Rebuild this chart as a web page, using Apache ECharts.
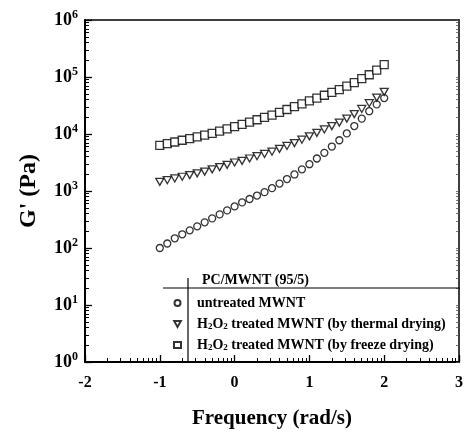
<!DOCTYPE html>
<html><head><meta charset="utf-8">
<script src="https://cdn.jsdelivr.net/npm/echarts@6/dist/echarts.min.js"></script>
<style>html,body{margin:0;padding:0;background:#fff}#c{width:466px;height:445px}</style>
</head><body><div id="c"></div>
<script>
// log10(frequency) values
var freqLog = [-1.0,-0.9,-0.8,-0.7,-0.6,-0.5,-0.4,-0.3,-0.2,-0.1,0.0,0.1,0.2,0.3,0.4,0.5,0.6,0.7,0.8,0.9,1.0,1.1,1.2,1.3,1.4,1.5,1.6,1.7,1.8,1.9,2.0];
// G' (Pa)
var untreated = [100,120,148,174,204,240,282,331,389,457,537,631,724,832,955,1122,1349,1622,1950,2399,2951,3715,4677,6026,7762,10230,13800,18620,25120,33110,42660];
var thermal = [1445,1549,1660,1778,1905,2042,2188,2399,2630,2884,3162,3388,3715,4074,4467,4898,5495,6166,6918,7943,9120,10470,12020,13800,15850,18620,22390,27540,34670,43650,54950];
var freeze = [6310,6761,7244,7762,8318,8913,9550,10230,11220,12300,13490,14790,16220,17780,19500,21380,23990,26920,30200,33880,38020,42660,47860,53700,60260,69180,79430,93330,109600,131800,165000];
var seriesNames = ['untreated MWNT','H2O2 treated MWNT (by thermal drying)','H2O2 treated MWNT (by freeze drying)'];
var xTicks = [-2,-1,0,1,2,3];
var yDecades = [0,1,2,3,4,5,6];

function logMinor(from, to){
  var out=[];
  for(var d=from; d<to; d++){ for(var k=2;k<=9;k++){ out.push(d+Math.log10(k)); } }
  return out;
}
var xMinor = logMinor(-2,3);
var yMinor = logMinor(0,6);

function pairs(arr){ return arr.map(function(v,i){ return [freqLog[i], v]; }); }

var font = 'Liberation Serif';
var chart = echarts.init(document.getElementById('c'));
var symStyle = {color:'#fff', borderColor:'#000', borderWidth:1.3};
chart.setOption({
  animation:false,
  backgroundColor:'#fff',
  grid:{left:85,right:6,top:20,bottom:83,containLabel:false},
  xAxis:[
    {type:'value',min:-2,max:3,interval:1,position:'bottom',
     axisLine:{show:true,onZero:false,lineStyle:{color:'#000',width:2}},
     axisTick:{show:true,inside:true,length:7,lineStyle:{color:'#000',width:1.3}},
     axisLabel:{color:'#000',fontFamily:font,fontSize:16,fontWeight:'bold',margin:13},
     splitLine:{show:false},
     name:'Frequency (rad/s)',nameLocation:'middle',nameGap:46,
     nameTextStyle:{color:'#000',fontFamily:font,fontSize:21,fontWeight:'bold'}},
    {type:'value',min:-2,max:3,position:'bottom',
     axisLine:{show:false,onZero:false},
     axisTick:{show:true,inside:true,length:4,customValues:xMinor,lineStyle:{color:'#000',width:1}},
     axisLabel:{show:false},splitLine:{show:false}},
    {type:'value',min:-2,max:3,position:'top',
     axisLine:{show:true,onZero:false,lineStyle:{color:'#000',width:1.5}},
     axisTick:{show:false},axisLabel:{show:false},splitLine:{show:false}}
  ],
  yAxis:[
    {type:'log',logBase:10,min:1,max:1e6,interval:1,position:'left',
     axisLine:{show:true,onZero:false,lineStyle:{color:'#000',width:2}},
     axisTick:{show:true,inside:true,length:7,lineStyle:{color:'#000',width:1.3}},
     axisLabel:{color:'#000',fontFamily:font,margin:7,
       formatter:function(v){ var e=Math.round(Math.log10(v)); return '{b|10}{s|'+e+'}'; },
       rich:{b:{fontFamily:font,fontSize:18,color:'#000',fontWeight:'bold'},
             s:{fontFamily:font,fontSize:12,color:'#000',fontWeight:'bold',padding:[0,0,10,0]}}},
     splitLine:{show:false},minorTick:{show:false},
     name:"G' (Pa)",nameLocation:'middle',nameGap:44,nameRotate:90,
     nameTextStyle:{color:'#000',fontFamily:font,fontSize:24,fontWeight:'bold'}},
    {type:'value',min:0,max:6,position:'left',
     axisLine:{show:false,onZero:false},
     axisTick:{show:true,inside:true,length:4,customValues:yMinor,lineStyle:{color:'#000',width:1}},
     axisLabel:{show:false},splitLine:{show:false}},
    {type:'value',min:0,max:6,position:'right',
     axisLine:{show:true,onZero:false,lineStyle:{color:'#000',width:1.5}},
     axisTick:{show:true,inside:true,length:3,customValues:yMinor.concat(yDecades),lineStyle:{color:'#555',width:0.8}},
     axisLabel:{show:false},splitLine:{show:false}}
  ],
  legend:{
    orient:'vertical',left:168,top:290,itemWidth:7,itemHeight:6,itemGap:5,
    data:seriesNames,
    formatter:function(n){ return n.replace(/H2O2/,'H{sub|2}O{sub|2}'); },
    textStyle:{color:'#000',fontFamily:font,fontSize:14,fontWeight:'bold',lineHeight:16,padding:[0,0,0,11],
      rich:{sub:{fontFamily:font,fontSize:9,fontWeight:'bold',color:'#000',lineHeight:16,padding:[6,0,0,0]}}}
  },
  graphic:[
    {type:'line',shape:{x1:163,y1:288,x2:460,y2:288},style:{stroke:'#000',lineWidth:1.2},z:10},
    {type:'line',shape:{x1:188,y1:278,x2:188,y2:361},style:{stroke:'#000',lineWidth:1.2},z:10},
    {type:'text',left:202,top:273,style:{text:'PC/MWNT (95/5)',font:'bold 14px "Liberation Serif"',fill:'#000'},z:10}
  ],
  series:[
    {name:seriesNames[0],type:'scatter',xAxisIndex:0,yAxisIndex:0,data:pairs(untreated),symbol:'circle',symbolSize:7,itemStyle:symStyle},
    {name:seriesNames[1],type:'scatter',xAxisIndex:0,yAxisIndex:0,data:pairs(thermal),symbol:'path://M0,0 L10,0 L5,9 Z',symbolSize:[8,7],itemStyle:symStyle},
    {name:seriesNames[2],type:'scatter',xAxisIndex:0,yAxisIndex:0,data:pairs(freeze),symbol:'rect',symbolSize:8,itemStyle:symStyle}
  ]
});
</script></body></html>
